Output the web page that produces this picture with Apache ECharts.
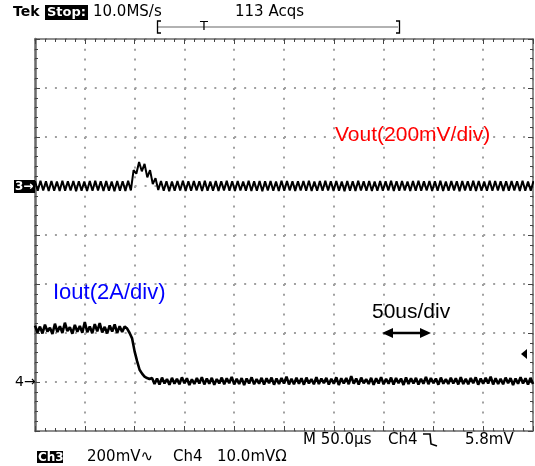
<!DOCTYPE html>
<html><head><meta charset="utf-8">
<script src="https://cdn.jsdelivr.net/npm/echarts@6/dist/echarts.min.js"></script>
<style>html,body{margin:0;padding:0;background:#fff}#c{width:535px;height:466px}</style>
</head><body><div id="c"></div>
<script>
// ---- data ----
// time axis: 10 divisions x 50 us
const timeMinUs = 0, timeMaxUs = 500, timeDivUs = 50;
// vertical: 8 divisions, channel markers in divisions
const ch3RefDiv = 1, ch4RefDiv = -3;
const vScaleMvPerDiv = 200, iScaleAPerDiv = 2;

// Ch3 Vout ripple, mV relative to Ch3 marker, one sample every 2.75 us
const voutStepUs = 2.75;
const voutMv = [
 20,-19,21,-18,19,-20,20,-19,18,-20,21,-19,19,-18,20,-21,19,-19,18,-20,
 20,-19,21,-18,19,-20,20,-19,18,-21,20,-19,19,-20,21,-18,
 65,50,98,60,90,35,65,8,32,-16,
 20,-19,19,-21,18,-19,20,-18,21,-20,
 19,-19,20,-18,19,-20,21,-19,18,-19,
 20,-20,19,-18,21,-19,19,-20,20,-18,
 18,-19,21,-20,19,-19,20,-21,19,-18,
 20,-19,18,-20,21,-19,20,-18,19,-20,
 19,-18,20,-19,21,-20,18,-19,20,-19,
 21,-18,19,-20,20,-19,18,-21,20,-19,
 19,-20,21,-18,19,-19,20,-20,18,-19,
 20,-19,19,-18,21,-20,19,-19,20,-18,
 18,-20,20,-19,21,-19,19,-18,20,-20,
 19,-19,21,-20,18,-19,20,-18,19,-21,
 20,-18,19,-19,21,-20,20,-19,18,-19,
 21,-19,20,-18,19,-20,19,-19,20,-18,
 19,-20,21,-19,18,-19,20
];

// Ch4 Iout, A relative to Ch4 marker, one sample every 2.5 us
const ioutStepUs = 2.5;
const ioutA = [
 2.30,2.02,2.26,1.98,2.34,2.06,2.22,1.96,2.38,2.04,
 2.28,2.00,2.42,2.08,2.24,1.97,2.33,2.05,2.29,2.01,
 2.45,2.03,2.27,1.99,2.36,2.07,2.40,2.02,2.25,1.98,
 2.31,2.06,2.35,2.00,2.28,2.04,2.26,
 2.18,2.00,1.78,1.25,0.85,0.50,0.34,0.22,0.16,0.12,
 0.16,-0.08,0.14,-0.10,0.18,-0.06,0.12,-0.11,0.17,-0.07,
 0.13,-0.09,0.19,-0.05,0.15,-0.12,0.11,-0.08,0.16,-0.06,
 0.20,-0.10,0.14,-0.07,0.17,-0.11,0.12,-0.06,0.18,-0.09,
 0.15,-0.05,0.21,-0.10,0.13,-0.08,0.16,-0.12,0.14,-0.06,
 0.19,-0.09,0.12,-0.07,0.17,-0.10,0.15,-0.05,0.18,-0.11,
 0.14,-0.08,0.16,-0.06,0.22,-0.10,0.13,-0.09,0.17,-0.07,
 0.15,-0.11,0.18,-0.06,0.12,-0.09,0.20,-0.08,0.14,-0.05,
 0.17,-0.10,0.13,-0.07,0.19,-0.12,0.15,-0.06,0.16,-0.09,
 0.24,-0.07,0.14,-0.10,0.18,-0.05,0.12,-0.08,0.17,-0.11,
 0.15,-0.06,0.20,-0.09,0.13,-0.07,0.18,-0.10,0.16,-0.05,
 0.14,-0.12,0.19,-0.08,0.15,-0.06,0.17,-0.10,0.13,-0.07,
 0.21,-0.09,0.16,-0.05,0.14,-0.11,0.18,-0.07,0.12,-0.08,
 0.17,-0.06,0.15,-0.10,0.20,-0.08,0.13,-0.09,0.16,-0.05,
 0.19,-0.11,0.14,-0.07,0.17,-0.06,0.22,-0.10,0.15,-0.08,
 0.13,-0.09,0.18,-0.05,0.16,-0.12,0.14,-0.07,0.19,-0.06,
 0.15,-0.10,0.17,-0.08
];

// texts
const headerTexts = { brand: 'Tek', state: 'Stop:', rate: '10.0MS/s', acqs: '113 Acqs' };
const footerTexts = { time: 'M 50.0µs', trigCh: 'Ch4', trigLevel: '5.8mV', ch3: 'Ch3', ch3Scale: '200mV∿', ch4: 'Ch4', ch4Scale: '10.0mVΩ' };
const annotations = { vout: 'Vout(200mV/div)', iout: 'Iout(2A/div)', timebase: '50us/div' };

// ---- chart ----
const voutData = voutMv.map((v, i) => [i * voutStepUs, ch3RefDiv + v / vScaleMvPerDiv]);
const ioutData = ioutA.map((a, i) => [i * ioutStepUs, ch4RefDiv + a / iScaleAPerDiv]);

const chart = echarts.init(document.getElementById('c'), null, { renderer: 'canvas' });
const tickCol = '#444';
const borderCol = '#6a6a6a';
const dotCol = '#a0a0a0';
function xAx(pos, split) {
  return {
    type: 'value', min: timeMinUs, max: timeMaxUs, interval: timeDivUs, position: pos,
    axisLine: { show: true, onZero: false, lineStyle: { color: borderCol, width: 1.5 } },
    axisLabel: { show: false },
    axisTick: { show: true, inside: true, length: 5, lineStyle: { color: tickCol, width: 1 } },
    minorTick: { show: true, splitNumber: 5, length: 3, lineStyle: { color: tickCol, width: 1 } },
    splitLine: { show: split, lineStyle: { color: dotCol, width: 2, type: [2, 7.8] } }
  };
}
function yAx(pos, split) {
  return {
    type: 'value', min: -4, max: 4, interval: 1, position: pos,
    axisLine: { show: true, onZero: false, lineStyle: { color: borderCol, width: pos === 'left' ? 2.5 : 1.5 } },
    axisLabel: { show: false },
    axisTick: { show: true, inside: true, length: 5, lineStyle: { color: tickCol, width: 1 } },
    minorTick: { show: true, splitNumber: 5, length: 3, lineStyle: { color: tickCol, width: 1 } },
    splitLine: { show: split, lineStyle: { color: dotCol, width: 2, type: [2, 7.96] } }
  };
}
const scopeFont = '"DejaVu Sans", sans-serif';
const annFont = '"Liberation Sans", Arial, sans-serif';
function txt(x, y, text, opts) {
  opts = opts || {};
  return {
    type: 'text', z: 100,
    style: {
      x: x, y: y, text: text,
      font: (opts.weight || 'normal') + ' ' + (opts.size || 14) + 'px ' + (opts.family || scopeFont),
      fill: opts.fill || '#000',
      textAlign: opts.align || 'left', align: opts.align || 'left',
      textVerticalAlign: 'middle', verticalAlign: 'middle'
    }
  };
}
function box(x, y, w, h) {
  return { type: 'rect', z: 99, shape: { x: x, y: y, width: w, height: h }, style: { fill: '#000' } };
}

chart.setOption({
  animation: false,
  backgroundColor: '#fff',
  grid: { left: 35, top: 39, width: 498, height: 392, show: false },
  xAxis: [xAx('bottom', true), xAx('top', false)],
  yAxis: [yAx('left', true), yAx('right', false)],
  series: [
    { type: 'line', data: voutData, showSymbol: false, xAxisIndex: 0, yAxisIndex: 0,
      lineStyle: { color: '#000', width: 2 }, z: 5 },
    { type: 'line', data: ioutData, showSymbol: false, xAxisIndex: 0, yAxisIndex: 0,
      lineStyle: { color: '#000', width: 2.6 }, z: 5 }
  ],
  graphic: [
    // header
    txt(13, 12, headerTexts.brand, { weight: 'bold', size: 14 }),
    box(45, 5, 43, 15),
    txt(47, 12.5, headerTexts.state, { weight: 'bold', size: 13, fill: '#fff' }),
    txt(93, 12, headerTexts.rate, { size: 15 }),
    txt(235, 12, headerTexts.acqs, { size: 15 }),
    // record bracket
    { type: 'line', z: 98, shape: { x1: 158, y1: 27, x2: 398, y2: 27 }, style: { stroke: '#999', lineWidth: 1.5 } },
    { type: 'polyline', z: 99, shape: { points: [[161, 21], [157.5, 21], [157.5, 33], [161, 33]] }, style: { stroke: '#000', lineWidth: 1.3, fill: null } },
    { type: 'polyline', z: 99, shape: { points: [[396, 21], [399.5, 21], [399.5, 33], [396, 33]] }, style: { stroke: '#000', lineWidth: 1.3, fill: null } },
    txt(204, 27, 'T', { size: 13, align: 'center' }),
    // channel markers
    box(14, 180, 21, 13),
    txt(15, 186.5, '3→', { weight: 'bold', size: 12, fill: '#fff' }),
    txt(15, 382, '4→', { size: 14 }),
    { type: 'polygon', z: 99, shape: { points: [[521, 354], [527, 349], [527, 359]] }, style: { fill: '#000' } },
    // footer
    txt(303, 440, footerTexts.time, { size: 15 }),
    txt(388, 440, footerTexts.trigCh, { size: 15 }),
    { type: 'polyline', z: 99, shape: { points: [[423, 434], [430, 434], [431, 444], [437, 446]] }, style: { stroke: '#000', lineWidth: 1.6, fill: null } },
    txt(465, 440, footerTexts.trigLevel, { size: 15 }),
    box(37, 451, 26, 12),
    txt(38, 457.5, footerTexts.ch3, { weight: 'bold', size: 12, fill: '#fff' }),
    txt(87, 457, footerTexts.ch3Scale, { size: 15 }),
    txt(173, 457, footerTexts.ch4, { size: 15 }),
    txt(217, 457, footerTexts.ch4Scale, { size: 15 }),
    // annotations
    txt(335, 135, annotations.vout, { size: 21, family: annFont, fill: '#ff0000' }),
    txt(53, 293, annotations.iout, { size: 22, family: annFont, fill: '#0000ff' }),
    txt(372, 312, annotations.timebase, { size: 21, family: annFont }),
    { type: 'line', z: 99, shape: { x1: 389, y1: 333, x2: 424, y2: 333 }, style: { stroke: '#000', lineWidth: 2.5 } },
    { type: 'polygon', z: 99, shape: { points: [[382, 333], [393, 328], [393, 338]] }, style: { fill: '#000' } },
    { type: 'polygon', z: 99, shape: { points: [[431, 333], [420, 328], [420, 338]] }, style: { fill: '#000' } }
  ]
});
</script>
</body></html>
